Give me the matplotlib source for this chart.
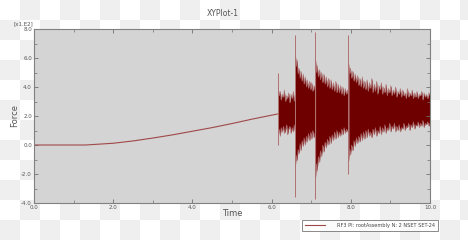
import matplotlib
matplotlib.use('Agg')
import matplotlib.pyplot as plt
import numpy as np

# smooth pre-load part (Force in x1e2)
t_ramp = [0.0, 1.3, 2.0, 2.5, 3.0, 3.5, 4.0, 4.5, 5.0, 5.5, 6.17]
f_ramp = [0.0, 0.0, 0.12, 0.28, 0.48, 0.7, 0.95, 1.2, 1.48, 1.78, 2.15]

# noisy part, upper / lower envelope, in four stretches
t_a = [6.17, 6.19, 6.22, 6.24, 6.27, 6.30, 6.32, 6.35, 6.38, 6.40, 6.43, 6.46,
       6.49, 6.52, 6.55, 6.57, 6.585]
hi_a = [3.9, 3.4, 3.7, 3.1, 3.5, 3.3, 3.8, 3.0, 3.4, 3.2, 3.6, 2.9,
        3.5, 3.2, 3.7, 3.0, 3.3]
lo_a = [0.7, 1.1, 0.6, 1.2, 0.9, 1.3, 0.8, 1.0, 1.4, 0.7, 1.1, 1.3,
        0.8, 1.2, 0.9, 1.4, 1.0]

t_b = [6.60, 6.62, 6.64, 6.67, 6.69, 6.72, 6.74, 6.77, 6.80, 6.82,
       6.85, 6.88, 6.90, 6.93, 6.96, 6.99, 7.01, 7.04, 7.07, 7.095]
hi_b = [6.3, 5.4, 5.9, 4.9, 5.3, 4.6, 5.1, 4.4, 4.9, 4.2,
        4.7, 4.0, 4.5, 3.9, 4.4, 3.8, 4.3, 3.7, 4.1, 3.8]
lo_b = [-1.5, -0.7, -1.1, -0.3, -0.6, 0.1, -0.4, 0.3, -0.1, 0.5,
        0.0, 0.6, 0.2, 0.8, 0.3, 0.9, 0.4, 1.0, 0.5, 0.8]

t_c = [7.11, 7.13, 7.15, 7.18, 7.21, 7.23, 7.26, 7.29, 7.32, 7.35,
       7.38, 7.41, 7.44, 7.47, 7.50, 7.53, 7.56, 7.59, 7.62, 7.65,
       7.68, 7.71, 7.74, 7.77, 7.80, 7.83, 7.86, 7.89, 7.92, 7.935]
hi_c = [5.9, 5.0, 5.5, 4.7, 5.2, 4.5, 5.0, 4.3, 4.9, 4.2,
        4.7, 4.0, 4.6, 3.9, 4.5, 3.8, 4.3, 3.7, 4.4, 3.6,
        4.2, 3.6, 4.1, 3.5, 4.0, 3.4, 3.9, 3.5, 3.8, 3.6]
lo_c = [-2.3, -1.3, -1.8, -0.8, -1.2, -0.4, -0.8, 0.0, -0.5, 0.2,
        -0.2, 0.4, 0.0, 0.6, 0.1, 0.7, 0.3, 0.9, 0.4, 1.0,
        0.5, 0.9, 0.6, 1.1, 0.7, 1.2, 0.8, 1.1, 0.9, 1.0]

t_d = [7.95, 7.97, 7.99, 8.02, 8.05, 8.08, 8.11, 8.14, 8.17, 8.20,
       8.23, 8.26, 8.29, 8.32, 8.35, 8.38, 8.41, 8.44, 8.47, 8.50,
       8.53, 8.56, 8.59, 8.62, 8.65, 8.68, 8.71, 8.74, 8.77, 8.80,
       8.83, 8.86, 8.89, 8.92, 8.95, 8.98, 9.01, 9.04, 9.07, 9.10,
       9.13, 9.16, 9.19, 9.22, 9.25, 9.28, 9.31, 9.34, 9.37, 9.40,
       9.43, 9.46, 9.49, 9.52, 9.55, 9.58, 9.61, 9.64, 9.67, 9.70,
       9.73, 9.76, 9.79, 9.82, 9.85, 9.88, 9.91, 9.94, 9.97, 10.0]
hi_d = [5.6, 4.9, 5.3, 4.6, 5.1, 4.4, 4.9, 4.3, 4.8, 4.1,
        4.6, 4.0, 4.7, 3.9, 4.4, 3.8, 4.5, 3.7, 4.3, 3.9,
        4.6, 3.6, 4.2, 3.7, 4.4, 3.5, 4.1, 3.8, 4.3, 3.5,
        4.0, 3.6, 4.2, 3.4, 3.9, 3.6, 4.1, 3.4, 3.8, 3.5,
        4.0, 3.3, 3.7, 3.5, 3.9, 3.3, 3.8, 3.4, 3.6, 3.2,
        3.9, 3.3, 3.6, 3.4, 3.8, 3.2, 3.6, 3.3, 3.7, 3.2,
        3.5, 3.4, 3.7, 3.1, 3.6, 3.3, 3.5, 3.2, 3.6, 3.4]
lo_d = [-1.1, -0.3, -0.7, 0.0, -0.4, 0.3, -0.1, 0.5, 0.1, 0.6,
        0.2, 0.8, 0.3, 0.9, 0.4, 1.0, 0.5, 1.1, 0.6, 0.9,
        0.5, 1.1, 0.7, 1.2, 0.6, 1.0, 0.8, 1.3, 0.7, 1.2,
        0.9, 1.4, 0.8, 1.2, 1.0, 1.5, 0.9, 1.3, 1.1, 1.5,
        0.9, 1.3, 1.0, 1.4, 0.9, 1.2, 1.1, 1.5, 1.0, 1.3,
        1.2, 1.5, 1.0, 1.4, 1.2, 1.6, 1.1, 1.4, 1.3, 1.6,
        1.2, 1.5, 1.3, 1.7, 1.2, 1.5, 1.4, 1.6, 1.3, 1.5]

# isolated spikes
t_spk = [6.17, 6.59, 7.10, 7.94]
hi_spk = [5.0, 7.6, 7.8, 7.6]
lo_spk = [0.0, -3.6, -3.7, -2.0]

legend_label = 'RF3 PI: rootAssembly N: 2 NSET SET-24'

fig = plt.figure(figsize=(4.68, 2.4), dpi=100)

# checkerboard backdrop
yy, xx = np.mgrid[0:240, 0:468]
board = np.where(((xx // 20) + (yy // 20)) % 2 == 1, 0.94, 1.0)
fig.figimage(np.dstack([board, board, board]), xo=0, yo=0, origin='upper', zorder=-10)

ax = fig.add_axes([34 / 468, 1 - 203 / 240, 396 / 468, 174 / 240])
ax.set_facecolor('#d4d4d4')

dark = '#6e0000'
edge = '#b07070'
ax.plot(t_ramp, f_ramp, color='#a04848', lw=0.8)
for t, hi, lo in [(t_a, hi_a, lo_a), (t_b, hi_b, lo_b), (t_c, hi_c, lo_c), (t_d, hi_d, lo_d)]:
    ax.fill_between(t, lo, hi, color=dark, lw=0)
    ax.plot(t, hi, color=edge, lw=0.4)
    ax.plot(t, lo, color=edge, lw=0.4)
ax.vlines(t_spk, lo_spk, hi_spk, color=edge, lw=0.7)

ax.set_xlim(0, 10)
ax.set_ylim(-4, 8)
ax.set_xticks(np.arange(0, 10.1, 2))
ax.set_xticks(np.arange(1, 10, 2), minor=True)
ax.set_yticks(np.arange(-4, 8.1, 2))
ax.set_yticks(np.arange(-3, 8, 2), minor=True)
ax.set_xticklabels(['%.1f' % v for v in np.arange(0, 10.1, 2)])
ax.set_yticklabels(['%.1f' % v for v in np.arange(-4, 8.1, 2)])
ax.tick_params(which='both', direction='in', top=True, right=True,
               colors='#707070', labelcolor='#555555', labelsize=4, pad=1.5)
ax.tick_params(which='major', length=3, width=0.6)
ax.tick_params(which='minor', length=2, width=0.5)
for s in ax.spines.values():
    s.set_color('#808080')
    s.set_linewidth(0.8)

fig.text(223 / 468, 1 - 14 / 240, 'XYPlot-1', fontsize=5.5, color='#555555',
         ha='center', va='center')
fig.text(232 / 468, 1 - 214 / 240, 'Time', fontsize=6, color='#555555',
         ha='center', va='center')
fig.text(15 / 468, 1 - 115 / 240, 'Force', fontsize=6, color='#555555',
         ha='center', va='center', rotation=90)
fig.text(13 / 468, 1 - 24 / 240, '[x1.E2]', fontsize=4, color='#555555',
         ha='left', va='center')

leg = ax.legend([plt.Line2D([], [], color='#a04848', lw=0.8)], [legend_label],
                loc='center', bbox_to_anchor=(370 / 468, 1 - 225 / 240),
                bbox_transform=fig.transFigure, fontsize=3.6, frameon=True,
                fancybox=False, borderpad=0.6, handlelength=4, handletextpad=2.5)
leg.get_frame().set_edgecolor('#555555')
leg.get_frame().set_linewidth(0.6)
for txt in leg.get_texts():
    txt.set_color('#444444')

fig.savefig('out.png', dpi=100)
